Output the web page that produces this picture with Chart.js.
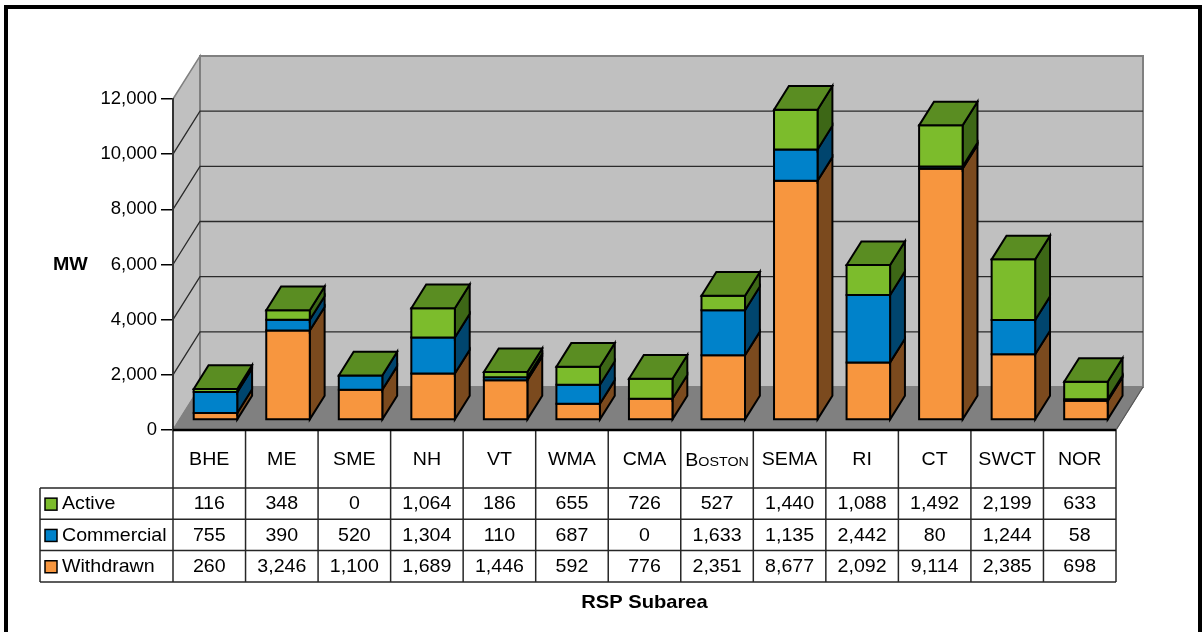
<!DOCTYPE html>
<html>
<head>
<meta charset="utf-8">
<title>RSP Subarea MW</title>
<script src="https://cdn.jsdelivr.net/npm/chart.js@4.4.1/dist/chart.umd.min.js"></script>
<style>
  html, body { margin: 0; padding: 0; background: #fff; }
  canvas { display: block; }
</style>
</head>
<body>
<canvas id="c" width="1202" height="632"></canvas>
<script>
// Subareas and their MW by status
const categories = ['BHE', 'ME', 'SME', 'NH', 'VT', 'WMA', 'CMA', 'Boston', 'SEMA', 'RI', 'CT', 'SWCT', 'NOR'];
const active     = [116, 348, 0, 1064, 186, 655, 726, 527, 1440, 1088, 1492, 2199, 633];
const commercial = [755, 390, 520, 1304, 110, 687, 0, 1633, 1135, 2442, 80, 1244, 58];
const withdrawn  = [260, 3246, 1100, 1689, 1446, 592, 776, 2351, 8677, 2092, 9114, 2385, 698];
const yTicks = [0, 2000, 4000, 6000, 8000, 10000, 12000];

const FONT = '"Liberation Sans", Arial, sans-serif';
const FONT_SIZE = 18.5;
const TEXT_STRETCH = 1.06;

// 3D box geometry: wall depth and where the bars sit inside it
const DX = 27, DY = 43;
const BAR_FRONT = 0.23, BAR_DEPTH = 0.55;

// Table rows below the plot
const TABLE = { catBottom: 488, rowH: 31.3, left: 40 };

const fmt = v => v.toLocaleString('en-US');

function poly(ctx, pts, fill, stroke, lw) {
  ctx.beginPath();
  ctx.moveTo(pts[0][0], pts[0][1]);
  for (let i = 1; i < pts.length; i++) ctx.lineTo(pts[i][0], pts[i][1]);
  ctx.closePath();
  if (fill) { ctx.fillStyle = fill; ctx.fill(); }
  if (stroke) { ctx.strokeStyle = stroke; ctx.lineWidth = lw || 1; ctx.stroke(); }
}

function line(ctx, pts, color, lw) {
  ctx.beginPath();
  ctx.moveTo(pts[0][0], pts[0][1]);
  for (let i = 1; i < pts.length; i++) ctx.lineTo(pts[i][0], pts[i][1]);
  ctx.strokeStyle = color; ctx.lineWidth = lw; ctx.stroke();
}

// text drawn slightly widened, anchored at (x, y) with the given alignment
function wideText(ctx, str, x, y, align) {
  ctx.save();
  ctx.translate(x, y);
  ctx.scale(TEXT_STRETCH, 1);
  ctx.textAlign = align;
  ctx.fillText(str, 0, 0);
  ctx.restore();
}

const threeD = {
  id: 'threeD',
  beforeDraw(chart) {
    const { ctx, chartArea: a, scales: { y } } = chart;
    ctx.save();
    ctx.lineJoin = 'miter';
    // side wall, back wall, floor
    poly(ctx, [[a.left, a.top], [a.left + DX, a.top - DY], [a.left + DX, a.bottom - DY], [a.left, a.bottom]], '#C0C0C0', '#808080', 1.5);
    poly(ctx, [[a.left + DX, a.top - DY], [a.right + DX, a.top - DY], [a.right + DX, a.bottom - DY], [a.left + DX, a.bottom - DY]], '#C0C0C0', '#808080', 2);
    poly(ctx, [[a.left, a.bottom], [a.left + DX, a.bottom - DY], [a.right + DX, a.bottom - DY], [a.right, a.bottom]], '#808080', '#808080', 1);
    line(ctx, [[a.left + DX, a.top - DY], [a.left + DX, a.bottom - DY]], '#808080', 1.5);
    // gridlines on the walls
    y.ticks.forEach(t => {
      if (t.value <= y.min || t.value >= y.max) return;
      const py = y.getPixelForValue(t.value);
      line(ctx, [[a.left, py], [a.left + DX, py - DY], [a.right + DX, py - DY]], '#2a2a2a', 1.3);
    });
    line(ctx, [[a.right, a.bottom], [a.right + DX, a.bottom - DY]], '#555', 1.2);
    ctx.restore();
  },
  beforeDatasetsDraw(chart) {
    const { ctx } = chart;
    const metas = chart.data.datasets.map((d, i) => chart.getDatasetMeta(i));
    const n = chart.data.labels.length;
    const ox = DX * BAR_FRONT, oy = DY * BAR_FRONT;
    const dx = DX * BAR_DEPTH, dy = DY * BAR_DEPTH;
    ctx.save();
    ctx.lineJoin = 'miter';
    for (let i = 0; i < n; i++) {
      metas.forEach((meta, k) => {
        const el = meta.data[i];
        const ds = chart.data.datasets[k];
        const x0 = el.x - el.width / 2 + ox, x1 = el.x + el.width / 2 + ox;
        const yt = el.y - oy, yb = el.base - oy;
        if (yb - yt > 0.01) {
          poly(ctx, [[x1, yb], [x1 + dx, yb - dy], [x1 + dx, yt - dy], [x1, yt]], ds.sideColor, '#000', 2);
          poly(ctx, [[x0, yb], [x1, yb], [x1, yt], [x0, yt]], ds.backgroundColor, '#000', 2);
        }
        if (k === metas.length - 1) {
          poly(ctx, [[x0, yt], [x0 + dx, yt - dy], [x1 + dx, yt - dy], [x1, yt]], ds.topColor, '#000', 2);
        }
      });
    }
    ctx.restore();
    return false;
  },
  afterDraw(chart) {
    const { ctx, chartArea: a, scales: { x } } = chart;
    const n = chart.data.labels.length;
    const colW = (a.right - a.left) / n;
    const rows = chart.data.datasets.slice().reverse();
    const rowTop = r => TABLE.catBottom + r * TABLE.rowH;
    const tableBottom = rowTop(rows.length);
    ctx.save();

    // grid of the data table
    ctx.lineCap = 'butt';
    for (let r = 0; r <= rows.length; r++) {
      const yy = rowTop(r);
      line(ctx, [[TABLE.left, yy], [a.right, yy]], '#262626', 1.5);
    }
    for (let k = 0; k <= n; k++) {
      const xx = a.left + k * colW;
      line(ctx, [[xx, a.bottom], [xx, tableBottom]], '#262626', 1.5);
    }
    line(ctx, [[TABLE.left, TABLE.catBottom], [TABLE.left, tableBottom]], '#262626', 1.5);
    line(ctx, [[a.left, a.bottom], [a.right, a.bottom]], '#000', 2.5);

    ctx.fillStyle = '#000';
    ctx.textBaseline = 'middle';

    // category labels
    const catY = (a.bottom + TABLE.catBottom) / 2 + 0.5;
    chart.data.labels.forEach((lab, i) => {
      const cx = x.getPixelForValue(i);
      if (lab === 'Boston') {
        // small caps
        const first = lab[0], rest = lab.slice(1).toUpperCase();
        ctx.font = `${FONT_SIZE}px ${FONT}`;
        const w1 = ctx.measureText(first).width * TEXT_STRETCH;
        ctx.font = `13.5px ${FONT}`;
        const w2 = ctx.measureText(rest).width * TEXT_STRETCH;
        const sx = cx - (w1 + w2) / 2;
        ctx.textBaseline = 'alphabetic';
        ctx.font = `${FONT_SIZE}px ${FONT}`;
        wideText(ctx, first, sx, catY + 6.6, 'left');
        ctx.font = `13.5px ${FONT}`;
        wideText(ctx, rest, sx + w1, catY + 6.6, 'left');
        ctx.textBaseline = 'middle';
      } else {
        ctx.font = `${FONT_SIZE}px ${FONT}`;
        wideText(ctx, lab, cx, catY, 'center');
      }
    });

    // series rows with legend keys
    rows.forEach((ds, r) => {
      const cy = rowTop(r) + TABLE.rowH / 2 + 0.5;
      ctx.fillStyle = ds.backgroundColor;
      ctx.fillRect(45, cy - 6, 12, 12);
      ctx.strokeStyle = '#000'; ctx.lineWidth = 1.5;
      ctx.strokeRect(45, cy - 6, 12, 12);
      ctx.fillStyle = '#000';
      ctx.font = `${FONT_SIZE}px ${FONT}`;
      wideText(ctx, ds.label, 62, cy, 'left');
      ds.data.forEach((v, i) => wideText(ctx, fmt(v), x.getPixelForValue(i), cy, 'center'));
    });

    // axis titles
    ctx.font = `bold ${FONT_SIZE}px ${FONT}`;
    wideText(ctx, 'MW', 53, chart.scales.y.getPixelForValue(6000) + 0.5, 'left');
    ctx.font = `bold 19px ${FONT}`;
    wideText(ctx, 'RSP Subarea', (a.left + a.right) / 2, 603, 'center');

    // frame
    ctx.strokeStyle = '#000';
    ctx.lineWidth = 4;
    ctx.strokeRect(6, 7, 1194, 700);
    ctx.restore();
  }
};

new Chart(document.getElementById('c'), {
  type: 'bar',
  data: {
    labels: categories,
    datasets: [
      { label: 'Withdrawn', data: withdrawn, backgroundColor: '#F7963F', sideColor: '#7B4A1E', topColor: '#B8702F' },
      { label: 'Commercial', data: commercial, backgroundColor: '#0082CA', sideColor: '#00456E', topColor: '#006098' },
      { label: 'Active', data: active, backgroundColor: '#7CBC2C', sideColor: '#3D6716', topColor: '#5A8D22' }
    ]
  },
  options: {
    responsive: false,
    animation: false,
    devicePixelRatio: 1,
    barPercentage: 0.6,
    categoryPercentage: 1,
    layout: { padding: { left: 0, top: 99, right: 86, bottom: 202 } },
    plugins: { legend: { display: false }, tooltip: { enabled: false }, title: { display: false } },
    scales: {
      x: { stacked: true, display: false },
      y: {
        stacked: true,
        min: 0,
        max: 12000,
        afterFit(s) { s.width = 173; },
        afterBuildTicks(s) { s.ticks = yTicks.map(v => ({ value: v })); },
        ticks: {
          color: '#000',
          padding: 4,
          font: { family: FONT, size: FONT_SIZE },
          callback: v => fmt(v)
        },
        grid: { drawOnChartArea: false, drawTicks: true, tickLength: 12, color: '#000', lineWidth: 1.5 },
        border: { display: true, color: '#333', width: 2 }
      }
    }
  },
  plugins: [threeD]
});
</script>
</body>
</html>
